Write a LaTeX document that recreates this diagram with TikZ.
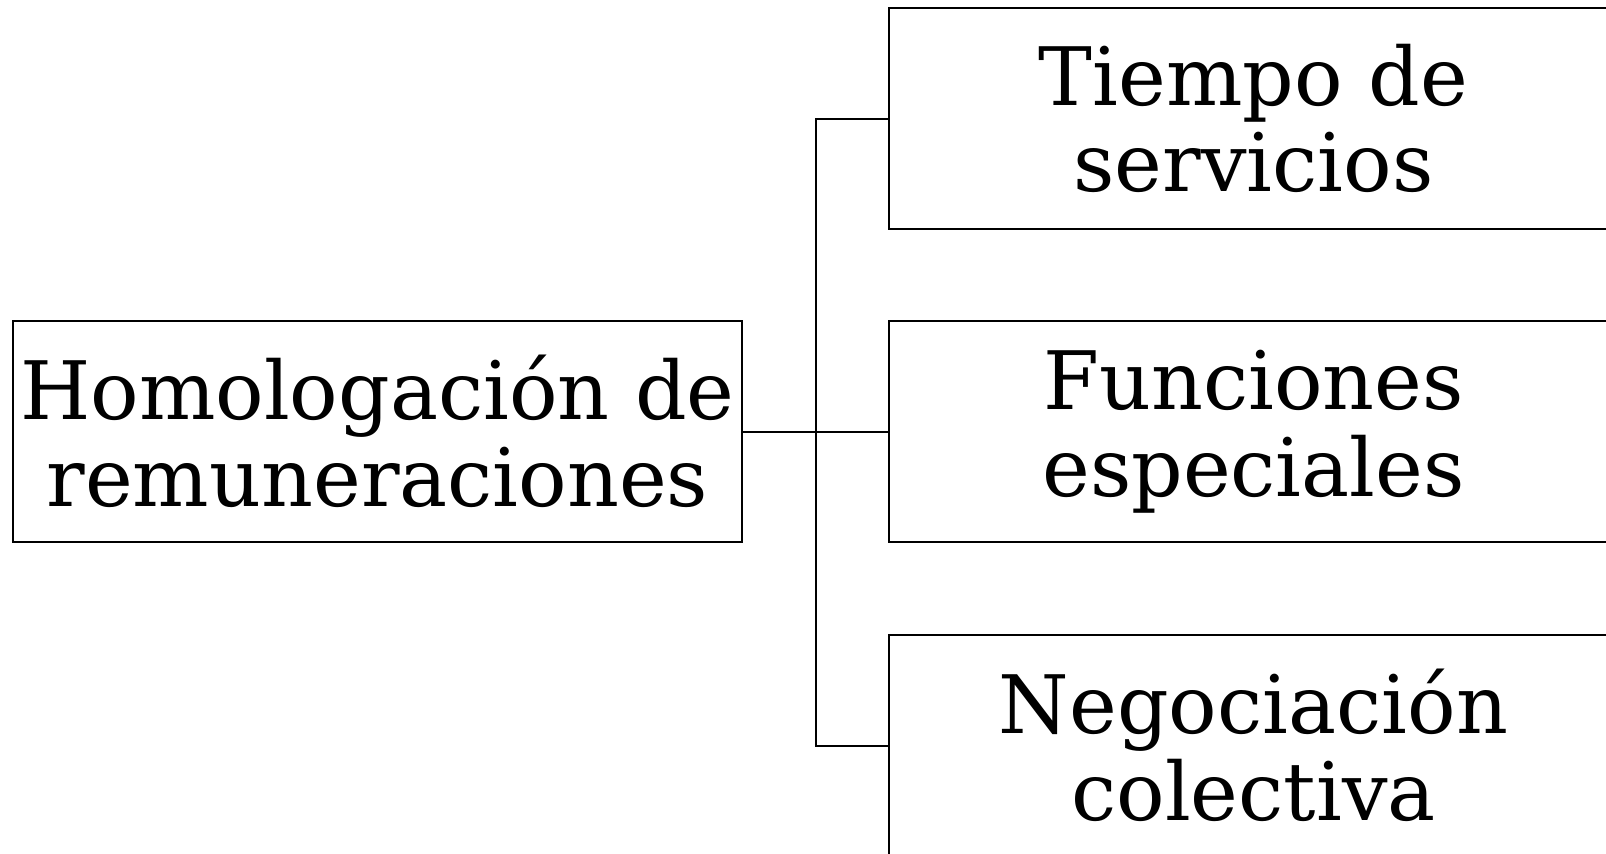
\documentclass[tikz,border=0pt]{standalone}
\usepackage{fontspec}
\setmainfont{DejaVu Serif}
\begin{document}
\begin{tikzpicture}[x=0.75pt,y=-0.75pt,
  box/.style={draw,line width=1.5pt,inner sep=0pt,minimum width=546.75pt,minimum height=165.75pt,align=center,
    font=\fontsize{60.5}{65}\selectfont},
  conn/.style={line width=1.5pt}]
\useasboundingbox (0,0) rectangle (1606,853);
\node[box] (left) at (377.5,431.5) {Homologación de\\remuneraciones};
\node[box] (top) at (1253.5,118.5) {Tiempo de\\servicios};
\node[box] (mid) at (1253.5,431.5) {Funciones\\especiales};
\node[box] (bot) at (1253.5,745.5) {Negociación\\colectiva};
\coordinate (t1) at (816,118.5);
\coordinate (t3) at (816,745.5);
\draw[conn] (top.west) -- (t1) -- (t3) -- (bot.west);
\draw[conn] (left.east) -- (mid.west);
\end{tikzpicture}
\end{document}
